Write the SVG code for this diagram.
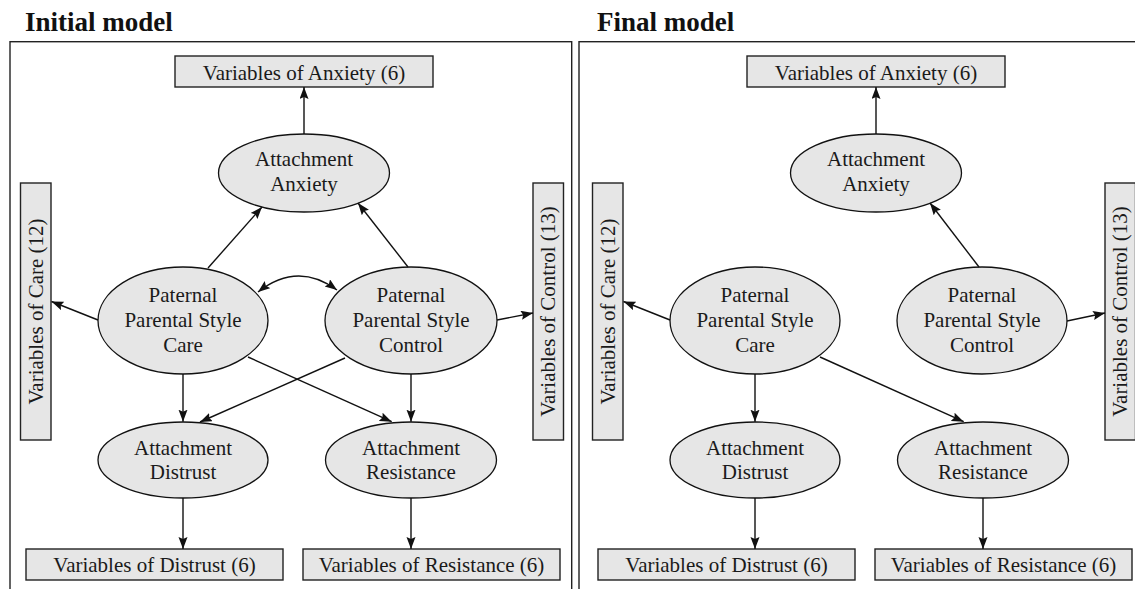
<svg xmlns="http://www.w3.org/2000/svg" width="1135" height="589" viewBox="0 0 1135 589">
<defs>
<style>
.title{font-family:"Liberation Serif","Times New Roman",serif;font-weight:bold;font-size:27px;fill:#111}
.t{font-family:"Liberation Serif","Times New Roman",serif;font-size:21px;fill:#1a1a1a;text-anchor:middle}
.box{fill:#e6e6e6;stroke:#222;stroke-width:1.4}
.ell{fill:#e6e6e6;stroke:#111;stroke-width:1.3}
.panel{fill:none;stroke:#222;stroke-width:1.4}
.c{fill:none;stroke:#111;stroke-width:1.4}
</style>
<marker id="ah" markerUnits="userSpaceOnUse" markerWidth="13" markerHeight="10" refX="12" refY="4.5" orient="auto-start-reverse" viewBox="0 0 13 10">
<path d="M0,0 L12,4.5 L0,9 L2,4.5 z" fill="#111"/>
</marker>
</defs>
<rect fill="#fff" x="0" y="0" width="1135" height="589"/>

<text class="title" x="25" y="31">Initial model</text>
<text class="title" x="597" y="31">Final model</text>
<rect class="panel" x="10" y="41.7" width="561.7" height="600"/>
<rect class="panel" x="579" y="41.7" width="600" height="600"/>

<!-- Left panel: initial model -->
<g id="initial">
<g id="i-var-anxiety"><rect class="box" x="175" y="56" width="258" height="31"/><text class="t" x="304" y="80">Variables of Anxiety (6)</text></g>
<g id="i-anxiety"><ellipse class="ell" cx="304" cy="173" rx="85.5" ry="39"/><text class="t" x="304" y="166">Attachment</text><text class="t" x="304" y="190.5">Anxiety</text></g>
<g id="i-var-care"><rect class="box" x="20.5" y="183" width="30.5" height="257"/><text class="t" transform="rotate(-90 35.75 311.5)" x="35.75" y="318.5">Variables of Care (12)</text></g>
<g id="i-var-control"><rect class="box" x="533" y="183" width="30.5" height="257"/><text class="t" transform="rotate(-90 548.25 311.5)" x="548.25" y="318.5">Variables of Control (13)</text></g>
<g id="i-care"><ellipse class="ell" cx="183" cy="320.5" rx="85" ry="53.5"/><text class="t" x="183" y="301.7">Paternal</text><text class="t" x="183" y="326.7">Parental Style</text><text class="t" x="183" y="351.7">Care</text></g>
<g id="i-control"><ellipse class="ell" cx="411" cy="320.5" rx="86" ry="53.5"/><text class="t" x="411" y="301.7">Paternal</text><text class="t" x="411" y="326.7">Parental Style</text><text class="t" x="411" y="351.7">Control</text></g>
<g id="i-distrust"><ellipse class="ell" cx="183" cy="460" rx="85" ry="38"/><text class="t" x="183" y="455">Attachment</text><text class="t" x="183" y="479">Distrust</text></g>
<g id="i-resistance"><ellipse class="ell" cx="411" cy="460" rx="85.5" ry="38"/><text class="t" x="411" y="455">Attachment</text><text class="t" x="411" y="479">Resistance</text></g>
<g id="i-var-distrust"><rect class="box" x="26" y="549" width="257" height="31"/><text class="t" x="154.5" y="572">Variables of Distrust (6)</text></g>
<g id="i-var-resistance"><rect class="box" x="303" y="549" width="257" height="31"/><text class="t" x="431.5" y="572">Variables of Resistance (6)</text></g>
</g>

<g id="i-connectors">
<line class="c" x1="304" y1="134" x2="304" y2="87" marker-end="url(#ah)"/>
<line class="c" x1="208" y1="268" x2="262" y2="207" marker-end="url(#ah)"/>
<line class="c" x1="408" y1="267" x2="358" y2="203" marker-end="url(#ah)"/>
<line class="c" x1="98" y1="320" x2="51.5" y2="301.5" marker-end="url(#ah)"/>
<line class="c" x1="497" y1="320" x2="533" y2="313" marker-end="url(#ah)"/>
<path class="c" d="M258,292 Q297.5,261 337,290" marker-start="url(#ah)" marker-end="url(#ah)"/>
<line class="c" x1="183" y1="374" x2="183" y2="421.7" marker-end="url(#ah)"/>
<line class="c" x1="345" y1="358" x2="200" y2="422" marker-end="url(#ah)"/>
<line class="c" x1="248" y1="357" x2="391.7" y2="421.7" marker-end="url(#ah)"/>
<line class="c" x1="411" y1="374" x2="411" y2="421.7" marker-end="url(#ah)"/>
<line class="c" x1="183" y1="498" x2="183" y2="549" marker-end="url(#ah)"/>
<line class="c" x1="411" y1="498" x2="411" y2="549" marker-end="url(#ah)"/>
</g>

<!-- Right panel: final model -->
<g id="final" transform="translate(572 0)">
<g id="f-var-anxiety"><rect class="box" x="175" y="56" width="258" height="31"/><text class="t" x="304" y="80">Variables of Anxiety (6)</text></g>
<g id="f-anxiety"><ellipse class="ell" cx="304" cy="173" rx="85.5" ry="39"/><text class="t" x="304" y="166">Attachment</text><text class="t" x="304" y="190.5">Anxiety</text></g>
<g id="f-var-care"><rect class="box" x="20.5" y="183" width="30.5" height="257"/><text class="t" transform="rotate(-90 35.75 311.5)" x="35.75" y="318.5">Variables of Care (12)</text></g>
<g id="f-var-control"><rect class="box" x="533" y="183" width="30.5" height="257"/><text class="t" transform="rotate(-90 548.25 311.5)" x="548.25" y="318.5">Variables of Control (13)</text></g>
<g id="f-care"><ellipse class="ell" cx="183" cy="320.5" rx="85" ry="53.5"/><text class="t" x="183" y="301.7">Paternal</text><text class="t" x="183" y="326.7">Parental Style</text><text class="t" x="183" y="351.7">Care</text></g>
<g id="f-control"><ellipse class="ell" cx="410" cy="320.5" rx="85" ry="53.5"/><text class="t" x="410" y="301.7">Paternal</text><text class="t" x="410" y="326.7">Parental Style</text><text class="t" x="410" y="351.7">Control</text></g>
<g id="f-distrust"><ellipse class="ell" cx="183" cy="460" rx="85" ry="38"/><text class="t" x="183" y="455">Attachment</text><text class="t" x="183" y="479">Distrust</text></g>
<g id="f-resistance"><ellipse class="ell" cx="411" cy="460" rx="85.5" ry="38"/><text class="t" x="411" y="455">Attachment</text><text class="t" x="411" y="479">Resistance</text></g>
<g id="f-var-distrust"><rect class="box" x="26" y="549" width="257" height="31"/><text class="t" x="154.5" y="572">Variables of Distrust (6)</text></g>
<g id="f-var-resistance"><rect class="box" x="303" y="549" width="257" height="31"/><text class="t" x="431.5" y="572">Variables of Resistance (6)</text></g>
</g>

<g id="f-connectors" transform="translate(572 0)">
<line class="c" x1="304" y1="134" x2="304" y2="87" marker-end="url(#ah)"/>
<line class="c" x1="407" y1="267" x2="358" y2="203" marker-end="url(#ah)"/>
<line class="c" x1="98" y1="320" x2="51.5" y2="301.5" marker-end="url(#ah)"/>
<line class="c" x1="495" y1="321" x2="533" y2="313" marker-end="url(#ah)"/>
<line class="c" x1="183" y1="374" x2="183" y2="421.7" marker-end="url(#ah)"/>
<line class="c" x1="248" y1="357" x2="391.7" y2="421.7" marker-end="url(#ah)"/>
<line class="c" x1="183" y1="498" x2="183" y2="549" marker-end="url(#ah)"/>
<line class="c" x1="411" y1="498" x2="411" y2="549" marker-end="url(#ah)"/>
</g>
</svg>
